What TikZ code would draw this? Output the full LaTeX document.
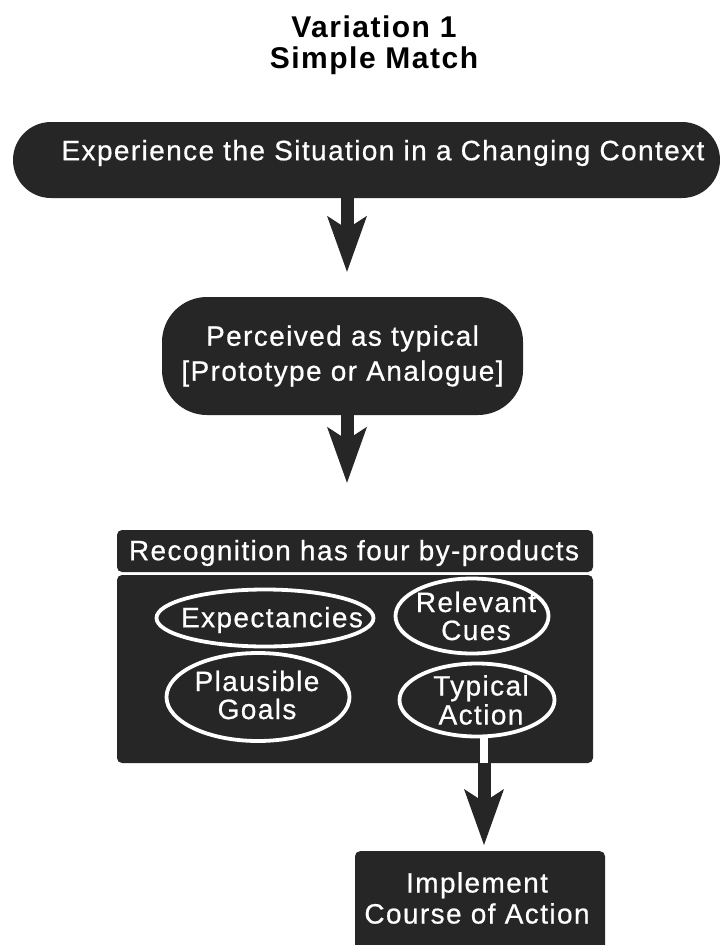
\documentclass[tikz,border=0pt]{standalone}
\usepackage{fontspec}
\setmainfont{Liberation Sans}[LetterSpace=5]
\newfontfamily\whitefont{Liberation Sans}[LetterSpace=5, FakeBold=0.6]
\usetikzlibrary{arrows.meta,shapes.geometric,calc}
\definecolor{ink}{gray}{0.15}
\begin{document}
\begin{tikzpicture}[x=1pt,y=-1pt,
  panel/.style={fill=ink, draw=none, inner sep=0pt},
  lbl/.style={text=white, align=center, inner sep=0pt,
    font={\whitefont\fontsize{28}{#1}\selectfont}},
  lbl/.default=30,
  cue/.style={draw=white, line width=3.8pt, ellipse, inner sep=0pt},
  flow/.style={draw=ink, line width=13pt,
    -{Stealth[length=56pt, width=40pt, inset=13pt, line width=0pt]}},
]
\useasboundingbox (0,0) rectangle (722,945);
\fill[white] (0,0) rectangle (722,945);

% heading
\node[font=\bfseries\fontsize{30}{31}\selectfont, align=center, inner sep=0pt]
  (title) at (374,45) {Variation 1\\Simple Match};

% first stage
\node[panel, rounded corners=38pt, minimum width=707pt, minimum height=76pt]
  (situation) at (366.5,160) {};
\node[lbl] (situationtext) at (383,153)
  {Experience the Situation in a Changing Context};

% second stage
\node[panel, lbl=35, rounded corners=45pt,
  minimum width=361pt, minimum height=118pt]
  (perceived) at (342.5,356) {Perceived as typical\\{[Prototype or Analogue]}};

% recognition block: heading strip and body
\node[panel, rounded corners=5pt, minimum width=476pt, minimum height=42pt]
  (byproducts) at (355,551) {};
\node[lbl] (byproductstext) at (354,553) {Recognition has four by-products};
\node[panel, rounded corners=5pt, minimum width=476pt, minimum height=188pt]
  (body) at (355,669) {};

% the four by-products
\node[cue, minimum width=217pt, minimum height=57pt] (expect) at (265,618) {};
\node[lbl] (expecttext) at (272,620) {Expectancies};
\node[cue, minimum width=153pt, minimum height=75pt] (cues) at (472,616) {};
\node[lbl=28] (cuestext) at (476,616) {Relevant\\Cues};
\node[cue, minimum width=183pt, minimum height=88pt] (goals) at (258,697) {};
\node[lbl=28] (goalstext) at (257,695) {Plausible\\Goals};
\node[cue, minimum width=155pt, minimum height=73pt] (typical) at (477,700) {};
\node[lbl=29] (typicaltext) at (481,700) {Typical\\Action};

% final stage
\node[panel, rounded corners=5pt, minimum width=250pt, minimum height=120pt, anchor=north]
  (implement) at (480,851) {};
\node[lbl=31] (implementtext) at (477,898) {Implement\\Course of Action};

% connector axes
\coordinate (axisA) at (347,0);
\coordinate (axisB) at (484,0);

% connectors
\draw[flow, shorten >=25pt] (situation.south -| axisA) -- (perceived.north -| axisA);
\draw[flow, shorten >=47pt] (perceived.south -| axisA) -- (byproducts.north -| axisA);
\draw[white, line width=8pt] (typical.south -| axisB) -- (body.south -| axisB);
\draw[flow, shorten >=6pt] (body.south -| axisB) -- (implement.north -| axisB);
\end{tikzpicture}
\end{document}
